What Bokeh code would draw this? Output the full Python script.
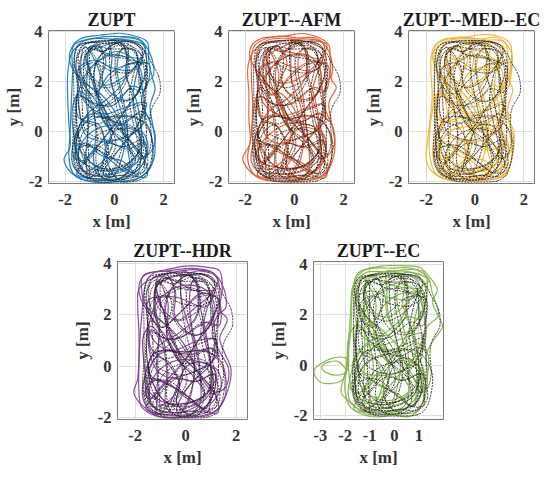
from bokeh.plotting import figure
from bokeh.layouts import column, row, Spacer
from bokeh.models import FixedTicker, Range1d
from bokeh.embed import file_html
from bokeh.resources import INLINE

FONT = "Liberation Serif"

TITLES = ["ZUPT", "ZUPT--AFM", "ZUPT--MED--EC", "ZUPT--HDR", "ZUPT--EC"]
COLORS = ["#0f74b8", "#d8552a", "#edb133", "#7e3a92", "#7bb03f"]

REF_PATH = [
(-0.1,0.0),(-0.7,0.9),(-1.25,1.7),(-1.55,2.4),(-1.5,3.1),(-1.2,3.5),(-0.4,3.62),(0.5,3.6),(1.05,3.45),(1.3,2.9),
(1.3,1.9),(1.25,0.9),(1.3,0.0),(1.25,-0.9),(1.15,-1.5),(0.7,-1.85),(-0.2,-1.95),(-1.0,-1.88),(-1.45,-1.5),(-1.6,-0.7),
(-1.6,0.2),(-1.55,1.2),(-1.45,2.2),(-1.35,3.0),(-0.9,3.4),(-0.1,3.3),(0.7,3.3),(1.15,3.0),(1.25,2.4),(0.95,1.6),
(0.45,0.9),(0.05,0.3),(-0.35,-0.2),(-0.9,-0.9),(-1.3,-1.45),(-0.9,-1.75),(-0.2,-1.8),(0.5,-1.7),(1.0,-1.35),(1.1,-0.7),
(0.9,-0.15),(0.3,0.1),(-0.3,0.05),(-0.85,-0.3),(-1.2,-0.9),(-1.1,-1.5),(-0.5,-1.7),(0.3,-1.55),(0.85,-1.1),(0.95,-0.5),
(0.75,0.4),(0.6,1.3),(0.75,2.2),(0.95,3.0),(0.55,3.5),(-0.2,3.5),(-1.0,3.55),(-1.4,3.25),(-1.45,2.5),(-1.1,1.9),
(-0.6,1.4),(-0.15,0.8),(0.25,0.15),(0.6,-0.55),(1.0,-1.05),(1.35,-0.9),(1.5,-0.35),(1.45,0.5),(1.55,1.0),(1.85,1.55),
(1.8,2.2),(1.5,2.75),(1.25,3.2),(0.7,3.55),(-0.1,3.65),(-0.9,3.6),(-1.5,3.4),(-1.65,2.6),(-1.65,1.5),(-1.65,0.3),
(-1.7,-0.8),(-1.5,-1.6),(-0.8,-1.98),(0.1,-2.02),(0.9,-1.98),(1.3,-1.7),(1.5,-1.1),(1.55,-0.4),(1.3,0.2),(0.8,0.6),
(0.1,0.55),(-0.5,0.35),(-1.0,0.2),(-1.35,-0.2),(-1.45,-1.1),(-1.1,-1.7),(-0.35,-1.2),(0.05,-0.6),(-0.1,0.1),(-0.4,0.9),
(-0.75,1.8),(-1.05,2.6),(-1.15,3.1),(-0.7,3.45),(-0.45,2.9),(-0.5,2.0),(-0.2,1.45),(0.35,1.2),(0.9,1.45),(1.05,2.1),
(0.75,2.75),(0.2,3.05),(-0.4,2.95),(-0.95,2.5),(-1.3,1.8),(-1.3,0.9),(-1.2,0.1),(-0.7,-0.25),(-0.1,-0.35),(0.5,-0.15),
(1.05,0.15),(1.15,0.9),(1.0,1.9),(0.95,2.9),(0.6,3.3),(0.1,3.1),(0.05,2.3),(0.25,1.4),(0.45,0.4),(0.6,-0.6),
(0.7,-1.4),(0.2,-1.9),(-0.5,-1.85),(-0.75,-1.2),(-0.7,-0.3),(-0.8,0.6),(-1.0,1.4),(-1.4,1.75),(-1.55,1.0),(-1.5,-0.1),
(-1.3,-1.0),(-0.95,-1.5),(-0.2,-1.55),(0.55,-1.25),(0.95,-0.85),(1.05,-0.2),(0.65,0.25),(0.1,0.2),(-0.15,-0.3),(-0.4,-1.1),
(-0.65,-1.75),(-1.2,-1.7),(-1.55,-1.1),(-1.5,-0.2),(-1.0,0.55),(-0.3,1.1),(0.35,1.75),(0.6,2.55),(0.4,3.4),(-0.3,3.55),
(-0.95,3.3),(-1.25,2.8),(-0.95,2.1),(-0.35,1.75),(0.35,2.05),(0.85,2.6),(1.15,3.3),(0.6,3.6),(-0.2,3.4),(-0.7,2.8),
(-0.85,2.0),(-0.55,1.1),(-0.1,0.35),(0.55,-0.3),(1.1,-0.95),(1.2,-1.6),(0.6,-1.6),(0.0,-1.1),(-0.6,-0.6),(-1.35,-0.4),
(-1.55,0.6),(-1.5,1.6),(-1.55,2.8),(-1.2,3.35),(-0.5,3.2),(0.25,3.45),(1.0,3.2),(1.25,2.1),(1.2,1.2),(1.05,0.4),
(1.2,-0.4),(1.35,-1.3),(0.9,-1.8),(0.2,-1.75),(-0.6,-1.9),(-1.35,-1.7),(-1.65,-1.0),(-1.55,0.0),
]

REF_PATH2 = [
(-1.0,-1.9),(-1.05,-0.9),(-1.1,0.2),(-1.05,1.2),(-1.0,2.3),(-0.95,3.3),(-0.3,3.05),(0.5,2.9),(1.1,2.7),(0.6,2.35),
(-0.2,2.45),(-0.9,2.75),(-1.4,2.35),(-1.15,1.2),(-0.4,0.55),(0.5,0.85),(1.2,1.05),(0.85,0.1),(0.15,-0.75),(-0.5,-1.5),
(-0.15,-1.7),(0.2,-1.0),(0.35,-0.1),(0.1,0.95),(-0.1,1.9),(-0.2,2.9),(-0.1,3.55),(0.45,3.2),(0.5,2.2),(0.8,1.1),
(1.0,-0.1),(0.85,-1.6),(0.25,-1.3),(-0.45,-0.85),(-1.1,-0.55),(-1.55,-0.85),(-1.2,-1.25),(-0.4,-0.5),(0.4,-0.6),(1.15,-0.35),
(1.05,-1.2),(0.35,-1.9),(-0.35,-1.45),(-0.25,-0.7),(-0.65,0.15),(-1.35,0.5),(-1.4,1.4),(-0.75,1.05),(-0.1,1.15),(0.65,1.7),
(1.2,1.6),(1.3,2.6),(0.55,2.7),(-0.15,2.15),(-0.9,1.5),(-1.25,2.2),(-1.1,3.3),(-0.55,2.45),(-0.75,1.35),(-0.35,0.3),
(0.45,-0.4),(0.75,-1.1),(0.1,-1.45),(-0.85,-1.35),(-1.45,-0.25),(-1.3,0.45),(-0.65,0.6),(0.2,0.35),(0.95,0.7),(1.35,0.45),
]

ZUPT_PATH = [
(-0.1,0.1),(-0.6,1.0),(-1.2,1.8),(-1.75,2.6),(-1.8,3.2),(-1.4,3.7),(-0.6,3.85),(0.2,3.93),(0.9,3.8),(1.35,3.55),
(1.4,2.8),(1.55,2.1),(1.65,1.7),(1.45,1.0),(1.55,0.3),(1.65,-0.4),(1.6,-1.1),(1.3,-1.65),(0.6,-2.0),(-0.3,-1.95),
(-1.2,-1.95),(-1.8,-1.6),(-2.05,-1.1),(-1.8,-0.6),(-1.85,0.3),(-1.9,1.3),(-1.9,2.3),(-1.75,3.1),(-1.3,3.5),(-0.4,3.6),
(0.4,3.75),(1.1,3.6),(1.3,3.0),(1.25,2.2),(0.9,1.5),(0.35,0.7),(-0.15,0.1),(-0.7,-0.6),(-1.3,-1.3),(-1.5,-1.75),
(-0.6,-1.9),(0.3,-1.85),(1.0,-1.5),(1.35,-0.8),(1.2,-0.1),(0.55,0.2),(-0.2,0.25),(-0.9,0.0),(-1.4,-0.6),(-1.4,-1.4),
(-0.8,-1.75),(0.2,-1.65),(0.95,-1.2),(1.1,-0.5),(0.85,0.5),(0.75,1.4),(0.9,2.3),(1.15,3.1),(0.7,3.6),(-0.1,3.7),
(-1.0,3.7),(-1.55,3.35),(-1.6,2.5),(-1.15,1.9),(-0.55,1.5),(-0.05,0.9),(0.3,0.2),(0.7,-0.5),(1.15,-1.0),(1.55,-0.7),
(1.65,-0.1),(1.35,0.6),(1.1,1.2),(1.3,1.9),(1.6,2.3),(1.45,3.1),(1.0,3.7),(0.2,3.8),(-0.7,3.75),(-1.65,3.45),
(-1.7,2.4),(-1.75,1.2),(-1.8,0.0),(-1.85,-1.0),(-1.65,-1.7),(-0.9,-2.02),(0.1,-2.0),(1.0,-1.85),(1.5,-1.3),(1.55,-0.5),
(1.3,0.3),(0.6,0.6),(-0.1,0.6),(-0.75,0.55),(-1.3,0.25),(-1.55,-0.5),(-1.3,-1.55),(-0.6,-1.3),(-0.1,-0.6),(-0.25,0.2),
(-0.6,1.1),(-0.9,2.0),(-1.1,3.0),(-0.7,3.5),(-0.35,2.85),(-0.5,2.1),(-0.1,1.5),(0.5,1.25),(1.0,1.6),(1.1,2.35),
(0.7,2.95),(0.05,3.2),(-0.55,2.9),(-1.1,2.4),(-1.45,1.6),(-1.4,0.7),(-1.2,-0.1),(-0.55,-0.4),(0.1,-0.35),(0.75,-0.1),
(1.2,0.4),(1.2,1.3),(1.0,2.4),(0.85,3.2),(0.3,3.3),(0.1,2.5),(0.3,1.5),(0.5,0.5),(0.55,-0.7),(0.6,-1.5),
(0.0,-1.95),(-0.7,-1.7),(-0.85,-1.0),(-0.75,-0.1),(-0.9,0.9),(-1.35,1.6),(-1.7,1.0),(-1.65,-0.2),(-1.4,-1.1),(-0.6,-1.55),
(0.25,-1.5),(0.9,-0.95),(1.2,-0.3),(0.7,0.1),(0.05,0.05),(-0.3,-0.5),(-0.55,-1.4),(-1.1,-1.85),(-1.7,-1.3),(-1.6,-0.2),
(-1.1,0.7),(-0.3,1.3),(0.35,1.95),(0.55,2.8),(0.25,3.55),(-0.5,3.4),(-1.15,3.05),(-0.9,2.2),(-0.3,1.85),(0.4,2.2),
(1.0,2.8),(1.25,3.4),(0.5,3.65),(-0.3,3.3),(-0.8,2.6),(-0.7,1.5),(-0.15,0.5),(0.5,-0.2),(1.2,-1.1),(1.3,-1.8),
(0.6,-1.7),(-0.1,-1.2),(-0.75,-0.7),(-1.5,-0.5),
]

ZUPT_PATH2 = [
(-1.1,-1.95),(-1.15,-0.8),(-1.05,0.3),(-1.15,1.3),(-1.1,2.4),(-1.0,3.4),(-0.4,3.15),(0.4,3.0),(1.15,2.85),(0.65,2.45),
(-0.1,2.55),(-0.85,2.85),(-1.5,2.4),(-1.25,1.25),(-0.45,0.7),(0.4,0.95),(1.3,1.15),(0.9,0.2),(0.25,-0.65),(-0.45,-1.6),
(-0.05,-1.8),(0.3,-1.05),(0.45,-0.1),(0.2,1.05),(-0.15,2.0),(-0.1,3.0),(-0.2,3.65),(0.55,3.3),(0.45,2.3),(0.9,1.2),
(1.1,-0.15),(0.95,-1.7),(0.35,-1.2),(-0.55,-0.95),(-1.15,-0.45),(-1.65,-0.95),(-1.25,-1.15),(-0.45,-0.4),(0.5,-0.7),(1.25,-0.45),
(1.15,-1.3),(0.25,-1.95),(-0.25,-1.35),(-0.35,-0.75),(-0.6,0.25),(-1.45,0.55),(-1.5,1.45),(-0.85,1.15),(-0.05,1.05),(0.7,1.8),
(1.25,1.7),(1.4,2.7),(0.45,2.65),(-0.25,2.25),(-0.85,1.4),(-1.35,2.3),(-1.2,3.4),(-0.6,2.35),(-0.65,1.3),(-0.45,0.4),
(0.4,-0.5),(0.85,-1.2),(0.05,-1.55),(-0.95,-1.25),(-1.55,-0.35),(-1.2,0.55),(-0.6,0.7),(0.3,0.3),(1.05,0.8),(1.45,0.5),
]

AFM_PATH = [
(-0.15,0.0),(-0.5,0.9),(-1.1,1.9),(-1.7,2.7),(-1.8,3.3),(-1.35,3.72),(-0.5,3.8),(0.3,3.92),(1.0,3.75),(1.4,3.45),
(1.45,2.9),(1.5,2.1),(1.7,1.75),(1.4,1.15),(1.5,0.4),(1.65,-0.5),(1.55,-1.15),(1.2,-1.75),(0.5,-1.98),(-0.4,-2.0),
(-1.3,-1.92),(-1.85,-1.55),(-2.1,-1.05),(-1.8,-0.45),(-1.85,0.5),(-1.85,1.5),(-1.9,2.5),(-1.7,3.15),(-1.2,3.55),(-0.3,3.65),
(0.5,3.7),(1.15,3.55),(1.25,2.85),(1.2,2.1),(0.85,1.4),(0.25,0.65),(-0.2,0.0),(-0.75,-0.7),(-1.35,-1.4),(-1.45,-1.8),
(-0.5,-1.85),(0.4,-1.8),(1.05,-1.4),(1.3,-0.7),(1.1,0.0),(0.45,0.3),(-0.3,0.3),(-1.0,-0.1),(-1.45,-0.7),(-1.35,-1.5),
(-0.7,-1.7),(0.3,-1.6),(1.0,-1.1),(1.05,-0.35),(0.8,0.6),(0.7,1.5),(0.95,2.4),(1.2,3.2),(0.6,3.55),(-0.2,3.72),
(-1.1,3.65),(-1.5,3.25),(-1.55,2.35),(-1.05,1.8),(-0.45,1.45),(0.05,0.8),(0.35,0.05),(0.8,-0.6),(1.2,-1.05),(1.6,-0.6),
(1.6,0.05),(1.3,0.75),(1.15,1.3),(1.35,2.0),(1.55,2.4),(1.4,3.2),(0.9,3.72),(0.1,3.75),(-0.8,3.8),(-1.65,3.4),
(-1.75,2.3),(-1.7,1.1),(-1.75,-0.1),(-1.9,-1.1),(-1.6,-1.75),(-0.8,-1.98),(0.2,-1.95),(1.05,-1.8),(1.45,-1.25),(1.5,-0.4),
(1.2,0.35),(0.5,0.65),(-0.2,0.5),(-0.85,0.6),(-1.35,0.15),(-1.5,-0.6),(-1.2,-1.5),(-0.5,-1.2),(-0.05,-0.5),(-0.3,0.3),
(-0.65,1.2),(-1.0,2.1),(-1.05,3.1),(-0.65,3.4),(-0.3,2.75),(-0.55,2.0),(-0.05,1.4),(0.55,1.3),(1.05,1.7),(1.05,2.45),
(0.65,3.0),(0.0,3.1),(-0.6,2.85),(-1.15,2.3),(-1.5,1.5),(-1.35,0.6),(-1.15,-0.2),(-0.5,-0.5),(0.15,-0.25),(0.8,0.0),
(1.25,0.5),(1.15,1.4),(1.05,2.5),(0.8,3.3),(0.25,3.2),(0.15,2.4),(0.35,1.4),(0.45,0.4),(0.6,-0.8),(0.55,-1.6),
(-0.1,-1.9),(-0.75,-1.6),(-0.8,-0.9),(-0.8,0.0),(-0.95,1.0),(-1.4,1.7),(-1.65,0.9),(-1.7,-0.3),(-1.35,-1.2),(-0.55,-1.45),
(0.3,-1.4),(0.95,-0.85),(1.15,-0.2),(0.6,0.15),(0.0,0.0),(-0.35,-0.6),(-0.6,-1.5),(-1.15,-1.8),(-1.75,-1.2),(-1.55,-0.1),
(-1.05,0.8),(-0.25,1.35),(0.4,2.05),(0.5,2.9),(0.2,3.6),(-0.55,3.35),(-1.1,2.95),(-0.85,2.1),(-0.25,1.95),(0.45,2.3),
(1.05,2.9),(1.3,3.5),(0.4,3.6),(-0.35,3.2),(-0.75,2.5),(-0.65,1.4),(-0.1,0.4),(0.6,-0.3),(1.25,-1.2),(1.25,-1.85),
(0.55,-1.65),(-0.15,-1.1),(-0.8,-0.6),(-1.55,-0.35),
]

AFM_PATH2 = [
(-1.15,-1.9),(-1.2,-0.85),(-1.1,0.25),(-1.1,1.35),(-1.15,2.35),(-1.05,3.35),(-0.35,3.2),(0.35,3.05),(1.1,2.8),(0.7,2.4),
(-0.15,2.6),(-0.8,2.8),(-1.45,2.45),(-1.3,1.2),(-0.5,0.65),(0.45,0.9),(1.25,1.1),(0.95,0.15),(0.2,-0.7),(-0.4,-1.55),
(-0.1,-1.75),(0.25,-1.1),(0.4,-0.05),(0.25,1.0),(-0.1,2.05),(-0.15,2.95),(-0.15,3.6),(0.5,3.25),(0.55,2.25),(0.85,1.25),
(1.05,-0.1),(1.0,-1.65),(0.3,-1.25),(-0.5,-0.9),(-1.2,-0.5),(-1.6,-0.9),(-1.3,-1.2),(-0.5,-0.45),(0.45,-0.65),(1.2,-0.4),
(1.1,-1.25),(0.3,-1.9),(-0.3,-1.4),(-0.3,-0.7),(-0.7,0.2),(-1.4,0.6),(-1.45,1.4),(-0.8,1.1),(-0.1,1.1),(0.75,1.75),
(1.3,1.65),(1.35,2.65),(0.5,2.75),(-0.2,2.2),(-0.9,1.45),(-1.3,2.25),(-1.15,3.35),(-0.65,2.4),(-0.7,1.25),(-0.4,0.35),
(0.35,-0.45),(0.8,-1.15),(0.0,-1.5),(-0.9,-1.3),(-1.5,-0.3),(-1.25,0.5),(-0.7,0.65),(0.25,0.4),(1.0,0.75),(1.4,0.4),
]

MED_PATH = [
(-0.05,0.05),(-0.55,1.05),(-1.2,1.9),(-1.7,2.8),(-1.7,3.35),(-1.25,3.7),(-0.5,3.75),(0.3,3.88),(1.0,3.8),(1.45,3.5),
(1.5,2.9),(1.4,2.1),(1.55,1.65),(1.35,1.0),(1.4,0.35),(1.6,-0.35),(1.5,-1.1),(1.25,-1.7),(0.55,-1.95),(-0.35,-1.9),
(-1.2,-1.9),(-1.8,-1.55),(-2.0,-1.05),(-1.95,-0.5),(-1.85,0.4),(-1.75,1.4),(-1.8,2.4),(-1.75,3.1),(-1.15,3.6),(-0.3,3.55),
(0.5,3.65),(1.2,3.6),(1.35,2.95),(1.3,2.2),(0.95,1.4),(0.3,0.75),(-0.1,0.15),(-0.65,-0.55),(-1.25,-1.25),(-1.45,-1.7),
(-0.55,-1.88),(0.35,-1.8),(1.05,-1.45),(1.4,-0.8),(1.15,-0.05),(0.5,0.3),(-0.25,0.2),(-0.95,0.05),(-1.4,-0.5),(-1.45,-1.35),
(-0.85,-1.7),(0.15,-1.6),(0.9,-1.25),(1.15,-0.45),(0.9,0.55),(0.8,1.35),(0.85,2.35),(1.1,3.15),(0.65,3.6),(-0.05,3.72),
(-1.05,3.65),(-1.55,3.3),(-1.55,2.45),(-1.1,1.85),(-0.5,1.55),(0.0,0.85),(0.35,0.15),(0.75,-0.45),(1.1,-1.05),(1.5,-0.75),
(1.6,-0.05),(1.3,0.65),(1.15,1.25),(1.4,1.85),(1.5,2.4),(1.5,3.15),(0.95,3.75),(0.15,3.7),(-0.65,3.78),(-1.6,3.45),
(-1.65,2.35),(-1.7,1.15),(-1.85,0.05),(-1.85,-0.95),(-1.6,-1.7),(-0.85,-1.98),(0.15,-1.95),(0.95,-1.85),(1.45,-1.35),(1.5,-0.5),
(1.25,0.25),(0.55,0.55),(-0.15,0.65),(-0.8,0.5),(-1.3,0.3),(-1.5,-0.45),(-1.25,-1.5),(-0.55,-1.25),(-0.15,-0.65),(-0.2,0.15),
(-0.55,1.15),(-0.95,1.95),(-1.15,2.95),(-0.75,3.45),(-0.3,2.9),(-0.55,2.15),(-0.15,1.55),(0.45,1.2),(1.0,1.55),(1.15,2.3),
(0.75,2.9),(0.1,3.25),(-0.5,2.95),(-1.05,2.45),(-1.4,1.65),(-1.45,0.75),(-1.25,-0.05),(-0.6,-0.35),(0.05,-0.4),(0.7,-0.15),
(1.15,0.35),(1.25,1.25),(0.95,2.35),(0.9,3.25),(0.35,3.35),(0.05,2.55),(0.3,1.55),(0.55,0.55),(0.5,-0.65),(0.65,-1.45),
(0.05,-1.9),(-0.65,-1.75),(-0.9,-1.05),(-0.7,-0.15),(-0.85,0.85),(-1.3,1.55),(-1.65,1.05),(-1.6,-0.15),(-1.45,-1.15),(-0.65,-1.6),
(0.2,-1.55),(0.85,-1.0),(1.25,-0.35),(0.75,0.05),(0.1,0.1),(-0.25,-0.45),(-0.5,-1.35),(-1.05,-1.8),(-1.65,-1.35),(-1.65,-0.25),
(-1.15,0.65),(-0.35,1.25),(0.3,1.9),(0.6,2.75),(0.3,3.5),(-0.45,3.45),(-1.2,3.1),(-0.95,2.25),(-0.35,1.8),(0.35,2.15),
(0.95,2.75),(1.2,3.35),(0.55,3.55),(-0.25,3.35),(-0.85,2.65),(-0.75,1.55),(-0.2,0.55),(0.45,-0.15),(1.15,-1.05),(1.3,-1.75),
(0.65,-1.75),(-0.05,-1.25),(-0.7,-0.75),(-1.45,-0.55),
]

MED_PATH2 = [
(-1.05,-1.85),(-1.15,-0.95),(-1.0,0.15),(-1.2,1.25),(-1.05,2.45),(-0.9,3.35),(-0.45,3.1),(0.45,2.95),(1.2,2.75),(0.55,2.5),
(-0.05,2.5),(-0.9,2.9),(-1.45,2.3),(-1.2,1.3),(-0.35,0.75),(0.35,0.85),(1.25,1.2),(0.85,0.25),(0.3,-0.6),(-0.5,-1.5),
(0.0,-1.7),(0.35,-1.0),(0.5,-0.15),(0.15,1.1),(-0.2,1.95),(-0.05,2.95),(-0.25,3.6),(0.6,3.35),(0.4,2.35),(0.95,1.15),
(1.05,-0.2),(1.05,-1.6),(0.4,-1.15),(-0.6,-1.0),(-1.1,-0.4),(-1.7,-0.85),(-1.2,-1.1),(-0.4,-0.35),(0.55,-0.75),(1.3,-0.5),
(1.2,-1.35),(0.2,-1.9),(-0.2,-1.3),(-0.4,-0.8),(-0.55,0.3),(-1.5,0.5),(-1.55,1.5),(-0.9,1.2),(0.0,1.0),(0.65,1.85),
(1.2,1.75),(1.45,2.75),(0.4,2.6),(-0.3,2.3),(-0.8,1.35),(-1.4,2.35),(-1.25,3.45),(-0.55,2.3),(-0.6,1.2),(-0.5,0.45),
(0.45,-0.55),(0.9,-1.25),(0.1,-1.6),(-1.0,-1.2),(-1.6,-0.4),(-1.15,0.6),(-0.55,0.75),(0.35,0.25),(1.1,0.85),(1.5,0.55),
]

HDR_PATH = [
(-0.15,0.05),(-0.65,0.95),(-1.25,1.75),(-1.75,2.55),(-1.85,3.1),(-1.6,3.55),(-0.8,3.75),(0.1,3.9),(0.8,3.85),(1.35,3.7),
(1.45,3.0),(1.35,2.2),(1.65,1.8),(1.35,1.1),(1.55,0.5),(1.8,-0.15),(1.65,-1.0),(1.25,-1.7),(0.55,-1.95),(-0.35,-2.0),
(-1.1,-1.95),(-1.7,-1.55),(-2.05,-1.05),(-1.9,-0.5),(-1.85,0.3),(-1.85,1.3),(-1.9,2.3),(-1.85,3.0),(-1.35,3.4),(-0.5,3.65),
(0.35,3.75),(1.1,3.6),(1.35,3.0),(1.25,2.25),(0.8,1.5),(0.3,0.7),(-0.2,0.05),(-0.8,-0.6),(-1.35,-1.25),(-1.55,-1.7),
(-0.65,-1.9),(0.25,-1.85),(0.95,-1.5),(1.4,-0.85),(1.25,-0.15),(0.6,0.15),(-0.15,0.25),(-0.85,0.0),(-1.35,-0.6),(-1.4,-1.4),
(-0.8,-1.8),(0.15,-1.7),(0.9,-1.15),(1.1,-0.55),(0.9,0.45),(0.7,1.35),(0.85,2.25),(1.2,3.05),(0.75,3.55),(-0.05,3.55),
(-0.95,3.7),(-1.5,3.4),(-1.65,2.55),(-1.2,1.95),(-0.6,1.45),(-0.1,0.9),(0.25,0.25),(0.65,-0.5),(1.1,-1.0),(1.6,-0.8),
(1.7,-0.1),(1.35,0.55),(1.05,1.25),(1.25,1.95),(1.6,2.3),(1.5,3.05),(1.05,3.65),(0.25,3.8),(-0.75,3.7),(-1.7,3.5),
(-1.7,2.45),(-1.8,1.25),(-1.85,0.05),(-1.85,-1.05),(-1.7,-1.65),(-0.95,-2.0),(0.05,-1.98),(0.95,-1.9),(1.5,-1.35),(1.6,-0.55),
(1.35,0.25),(0.65,0.6),(-0.05,0.55),(-0.7,0.6),(-1.25,0.25),(-1.5,-0.55),(-1.35,-1.55),(-0.65,-1.35),(-0.15,-0.55),(-0.2,0.25),
(-0.55,1.1),(-0.85,2.05),(-1.15,3.05),(-0.75,3.55),(-0.4,2.85),(-0.45,2.05),(-0.15,1.5),(0.45,1.2),(1.0,1.65),(1.15,2.35),
(0.75,3.0),(0.0,3.15),(-0.6,2.95),(-1.15,2.45),(-1.45,1.6),(-1.45,0.65),(-1.15,-0.15),(-0.6,-0.45),(0.15,-0.3),(0.7,-0.05),
(1.25,0.45),(1.15,1.35),(1.05,2.4),(0.8,3.25),(0.3,3.35),(0.15,2.55),(0.25,1.5),(0.5,0.45),(0.6,-0.75),(0.55,-1.5),
(-0.05,-1.98),(-0.75,-1.65),(-0.8,-1.0),(-0.75,-0.15),(-0.95,0.95),(-1.35,1.55),(-1.7,1.05),(-1.6,-0.25),(-1.4,-1.05),(-0.6,-1.5),
(0.2,-1.55),(0.95,-0.95),(1.2,-0.25),(0.65,0.15),(0.05,0.0),(-0.25,-0.55),(-0.6,-1.4),(-1.15,-1.9),(-1.7,-1.25),(-1.55,-0.15),
(-1.1,0.75),(-0.25,1.3),(0.4,1.9),(0.5,2.85),(0.2,3.5),(-0.55,3.45),(-1.2,3.0),(-0.85,2.15),(-0.25,1.8),(0.35,2.25),
(1.05,2.85),(1.25,3.45),(0.45,3.7),(-0.35,3.25),(-0.75,2.55),(-0.75,1.45),(-0.2,0.45),(0.5,-0.25),(1.2,-1.15),(1.25,-1.85),
(0.55,-1.6),(-0.1,-1.15),(-0.7,-0.65),(-1.55,-0.45),
]

HDR_PATH2 = [
(-1.2,-1.95),(-1.1,-0.9),(-1.15,0.2),(-1.05,1.3),(-1.2,2.35),(-1.1,3.45),(-0.3,3.25),(0.3,2.95),(1.05,2.9),(0.75,2.3),
(-0.25,2.65),(-0.75,2.7),(-1.5,2.5),(-1.35,1.15),(-0.55,0.6),(0.5,1.0),(1.2,1.0),(1.0,0.1),(0.15,-0.75),(-0.35,-1.6),
(-0.2,-1.85),(0.2,-1.15),(0.35,0.0),(0.3,0.95),(-0.05,2.1),(-0.2,2.9),(-0.1,3.7),(0.45,3.2),(0.6,2.2),(0.8,1.3),
(1.0,-0.05),(0.9,-1.75),(0.25,-1.3),(-0.45,-0.85),(-1.25,-0.55),(-1.6,-1.0),(-1.35,-1.25),(-0.55,-0.5),(0.4,-0.6),(1.15,-0.3),
(1.05,-1.2),(0.35,-1.95),(-0.35,-1.45),(-0.25,-0.65),(-0.75,0.15),(-1.35,0.65),(-1.4,1.35),(-0.75,1.05),(-0.15,1.15),(0.8,1.7),
(1.35,1.6),(1.3,2.6),(0.55,2.8),(-0.15,2.15),(-0.95,1.5),(-1.25,2.2),(-1.1,3.3),(-0.7,2.45),(-0.75,1.2),(-0.35,0.3),
(0.3,-0.4),(0.75,-1.1),(-0.05,-1.45),(-0.85,-1.35),(-1.45,-0.25),(-1.3,0.45),(-0.75,0.6),(0.2,0.45),(0.95,0.7),(1.35,0.35),
]

EC_PATH = [
(-0.1,0.15),(-0.6,1.05),(-1.15,1.95),(-1.6,2.8),(-1.6,3.35),(-1.15,3.8),(-0.4,3.95),(0.4,3.95),(1.0,3.9),(1.4,3.55),
(1.75,3.0),(1.55,2.5),(1.85,1.85),(1.95,1.5),(1.6,1.0),(1.3,0.4),(1.35,-0.4),(1.3,-1.1),(1.05,-1.7),(0.6,-2.05),
(-0.2,-1.95),(-1.1,-1.95),(-1.7,-1.55),(-2.15,-1.1),(-2.05,-0.5),(-1.9,0.1),(-2.0,0.3),(-2.6,0.25),(-3.25,-0.2),(-2.95,-0.7),
(-2.2,-0.65),(-1.95,-0.25),(-2.3,0.15),(-2.85,0.05),(-2.9,-0.2),(-2.4,-0.4),(-1.9,-0.2),(-1.85,0.6),(-1.75,1.6),(-1.75,2.6),
(-1.65,3.2),(-1.1,3.7),(-0.25,3.7),(0.55,3.8),(1.2,3.7),(1.35,3.0),(1.15,2.2),(0.7,1.5),(0.2,0.7),(-0.3,0.05),
(-0.85,-0.65),(-1.45,-1.3),(-1.6,-1.8),(-0.7,-1.85),(0.2,-1.8),(0.9,-1.5),(1.15,-0.85),(1.05,-0.1),(0.4,0.3),(-0.35,0.45),
(-1.0,0.15),(-1.5,-0.45),(-1.65,-1.3),(-0.95,-1.75),(0.05,-1.6),(0.8,-1.2),(1.0,-0.5),(0.95,0.55),(0.8,1.5),(0.95,2.3),
(1.3,3.1),(0.8,3.65),(0.0,3.75),(-0.9,3.6),(-1.5,3.3),(-1.55,2.45),(-1.05,1.85),(-0.5,1.4),(0.1,0.8),(0.45,0.05),
(0.8,-0.5),(1.05,-1.1),(1.3,-0.6),(1.4,0.25),(1.2,0.95),(1.35,1.55),(1.8,2.0),(1.55,2.85),(1.35,3.5),(0.7,3.85),
(-0.1,3.85),(-0.9,3.85),(-1.55,3.55),(-1.75,2.3),(-1.85,1.1),(-1.95,-0.1),(-2.0,-1.0),(-1.75,-1.7),(-0.9,-2.05),(0.05,-1.95),
(0.9,-1.85),(1.2,-1.3),(1.25,-0.45),(0.95,0.3),(0.35,0.65),(-0.3,0.6),(-0.85,0.7),(-1.4,0.3),(-1.6,-0.6),(-1.4,-1.5),
(-0.7,-1.3),(-0.2,-0.55),(-0.3,0.2),(-0.7,1.1),(-1.05,2.0),(-1.2,3.1),(-0.8,3.55),(-0.4,2.85),(-0.3,2.05),(-0.05,1.5),
(0.5,1.3),(1.05,1.75),(1.15,2.45),(0.8,3.0),(0.15,3.25),(-0.45,3.0),(-1.1,2.5),(-1.5,1.65),(-1.6,0.7),(-1.35,-0.2),
(-0.75,-0.4),(-0.05,-0.35),(0.6,-0.05),(1.1,0.5),(1.3,1.3),(1.1,2.5),(0.95,3.35),(0.35,3.5),(0.1,2.65),(0.35,1.6),
(0.55,0.6),(0.6,-0.6),(0.5,-1.5),(-0.15,-1.9),(-0.85,-1.65),(-1.0,-0.95),(-0.85,-0.1),(-1.05,0.95),(-1.45,1.6),(-1.85,1.1),
(-1.85,-0.25),(-1.6,-1.15),(-0.75,-1.55),(0.1,-1.45),(0.8,-0.9),(1.1,-0.2),(0.55,0.15),(-0.05,0.1),(-0.4,-0.55),(-0.7,-1.4),
(-1.3,-1.8),(-1.85,-1.3),(-1.7,-0.15),(-1.2,0.8),(-0.35,1.3),(0.35,1.95),(0.55,2.95),(0.3,3.65),(-0.45,3.5),(-1.25,3.1),
(-0.95,2.25),(-0.3,1.9),(0.4,2.35),(1.0,3.05),(1.4,3.4),(0.6,3.7),(-0.25,3.4),
]

EC_PATH2 = [
(-1.2,-1.85),(-1.25,-0.8),(-1.2,0.35),(-1.2,1.4),(-1.2,2.5),(-1.1,3.5),(-0.45,3.3),(0.25,3.1),(1.0,3.0),(0.6,2.6),
(-0.25,2.7),(-0.95,2.95),(-1.6,2.55),(-1.4,1.3),(-0.6,0.8),(0.3,1.05),(1.15,1.25),(0.8,0.3),(0.05,-0.55),(-0.6,-1.45),
(-0.25,-1.7),(0.1,-0.95),(0.25,0.05),(0.05,1.15),(-0.25,2.1),(-0.3,3.1),(-0.3,3.75),(0.4,3.4),(0.35,2.4),(0.7,1.35),
(0.9,-0.05),(0.8,-1.6),(0.15,-1.15),(-0.65,-0.8),(-1.3,-0.35),(-1.8,-0.85),(-1.4,-1.1),(-0.6,-0.3),(0.3,-0.6),(1.05,-0.35),
(0.95,-1.2),(0.15,-1.85),(-0.4,-1.3),(-0.45,-0.65),(-0.8,0.3),(-1.55,0.7),(-1.6,1.55),(-0.95,1.25),(-0.25,1.2),(0.5,1.9),
(1.1,1.85),(1.2,2.8),(0.3,2.85),(-0.4,2.4),(-1.0,1.55),(-1.45,2.4),(-1.3,3.5),(-0.75,2.5),(-0.85,1.4),(-0.55,0.45),
(0.2,-0.3),(0.6,-1.0),(-0.15,-1.4),(-1.05,-1.15),(-1.7,-0.2),(-1.4,0.6),(-0.85,0.8),(0.1,0.5),(0.85,0.9),(1.25,0.6),
]

SERIES_PATHS = [ZUPT_PATH, AFM_PATH, MED_PATH, HDR_PATH, EC_PATH]
SERIES_PATHS2 = [ZUPT_PATH2, AFM_PATH2, MED_PATH2, HDR_PATH2, EC_PATH2]

X_TICKS = [[-2, 0, 2], [-2, 0, 2], [-2, 0, 2], [-2, 0, 2], [-3, -2, -1, 0, 1]]
Y_TICKS = [-2, 0, 2, 4]
X_RANGES = [(-2.68, 2.44), (-2.68, 2.44), (-2.72, 2.44), (-2.7, 2.45), (-3.28, 2.0)]
Y_RANGES = [(-2.08, 4.04), (-2.08, 4.04), (-2.08, 4.04), (-2.08, 4.07), (-2.16, 4.12)]


def bezier_parts(path):
    xs = [path[0][0]] + [q[0] for q in path] + [path[-1][0]]
    ys = [path[0][1]] + [q[1] for q in path] + [path[-1][1]]
    d = dict(x0=[], y0=[], x1=[], y1=[], cx0=[], cy0=[], cx1=[], cy1=[])
    for i in range(1, len(xs) - 2):
        d["x0"].append(xs[i]); d["y0"].append(ys[i])
        d["x1"].append(xs[i + 1]); d["y1"].append(ys[i + 1])
        d["cx0"].append(xs[i] + (xs[i + 1] - xs[i - 1]) / 6)
        d["cy0"].append(ys[i] + (ys[i + 1] - ys[i - 1]) / 6)
        d["cx1"].append(xs[i + 1] - (xs[i + 2] - xs[i]) / 6)
        d["cy1"].append(ys[i + 1] - (ys[i + 2] - ys[i]) / 6)
    return d


def panel(i, w, h, left, right, top, bottom):
    p = figure(width=w, height=h, output_backend="svg", toolbar_location=None,
               min_border_left=left, min_border_right=right, min_border_top=top, min_border_bottom=bottom,
               x_range=Range1d(*X_RANGES[i]), y_range=Range1d(*Y_RANGES[i]),
               title=TITLES[i])
    p.title.align = "center"
    p.title.text_font = FONT
    p.title.text_font_size = "18px"
    p.title.text_font_style = "bold"
    p.title.text_color = "#1a1a1a"
    p.title.standoff = 1
    p.title.offset = 0
    p.outline_line_color = "#7a7a7a"
    p.outline_line_width = 1
    p.background_fill_color = "white"
    p.border_fill_color = None
    p.xgrid.ticker = FixedTicker(ticks=X_TICKS[i])
    p.ygrid.ticker = FixedTicker(ticks=Y_TICKS)
    p.grid.grid_line_color = "#dddddd"
    p.grid.grid_line_width = 1
    for ax, ticks, lab in ((p.xaxis[0], X_TICKS[i], "x [m]"), (p.yaxis[0], Y_TICKS, "y [m]")):
        ax.ticker = FixedTicker(ticks=ticks)
        ax.major_label_overrides = {t: str(t) for t in ticks}
        ax.axis_label = lab
        ax.axis_label_text_font = FONT
        ax.axis_label_text_font_size = "17px"
        ax.axis_label_text_font_style = "bold"
        ax.axis_label_text_color = "#333333"
        ax.major_label_text_font = FONT
        ax.major_label_text_font_size = "16.5px"
        ax.major_label_text_font_style = "bold"
        ax.major_label_text_color = "#333333"
        ax.axis_line_color = None
        ax.major_tick_line_color = None
        ax.minor_tick_line_color = None
        ax.major_tick_in = 0
        ax.major_tick_out = 0
        ax.minor_tick_in = 0
        ax.minor_tick_out = 0
    p.xaxis[0].major_label_standoff = 10
    p.xaxis[0].axis_label_standoff = 4
    p.yaxis[0].major_label_standoff = 6
    p.yaxis[0].axis_label_standoff = 3
    for src in (SERIES_PATHS[i], SERIES_PATHS2[i]):
        p.bezier(x0="x0", y0="y0", x1="x1", y1="y1", cx0="cx0", cy0="cy0", cx1="cx1", cy1="cy1",
                 source=bezier_parts(src), line_color=COLORS[i], line_width=1.2, line_alpha=0.9)
    for src in (REF_PATH, REF_PATH2):
        p.bezier(x0="x0", y0="y0", x1="x1", y1="y1", cx0="cx0", cy0="cy0", cx1="cx1", cy1="cy1",
                 source=bezier_parts(src), line_color="#1a1a1a", line_width=1.0, line_dash="2 1", line_alpha=0.8)
    return p


p1 = panel(0, 180, 238, 46, 6, 30, 55)
p2 = panel(1, 180, 238, 46, 6, 30, 55)
p3 = panel(2, 184, 238, 46, 10, 30, 55)
p4 = panel(3, 196, 241, 46, 18, 23, 60)
p5 = panel(4, 184, 241, 46, 6, 22, 60)

layout = column(row(p1, p2, p3), row(Spacer(width=69, height=241), p4, p5))
open("out.html", "w").write(file_html(layout, INLINE))
